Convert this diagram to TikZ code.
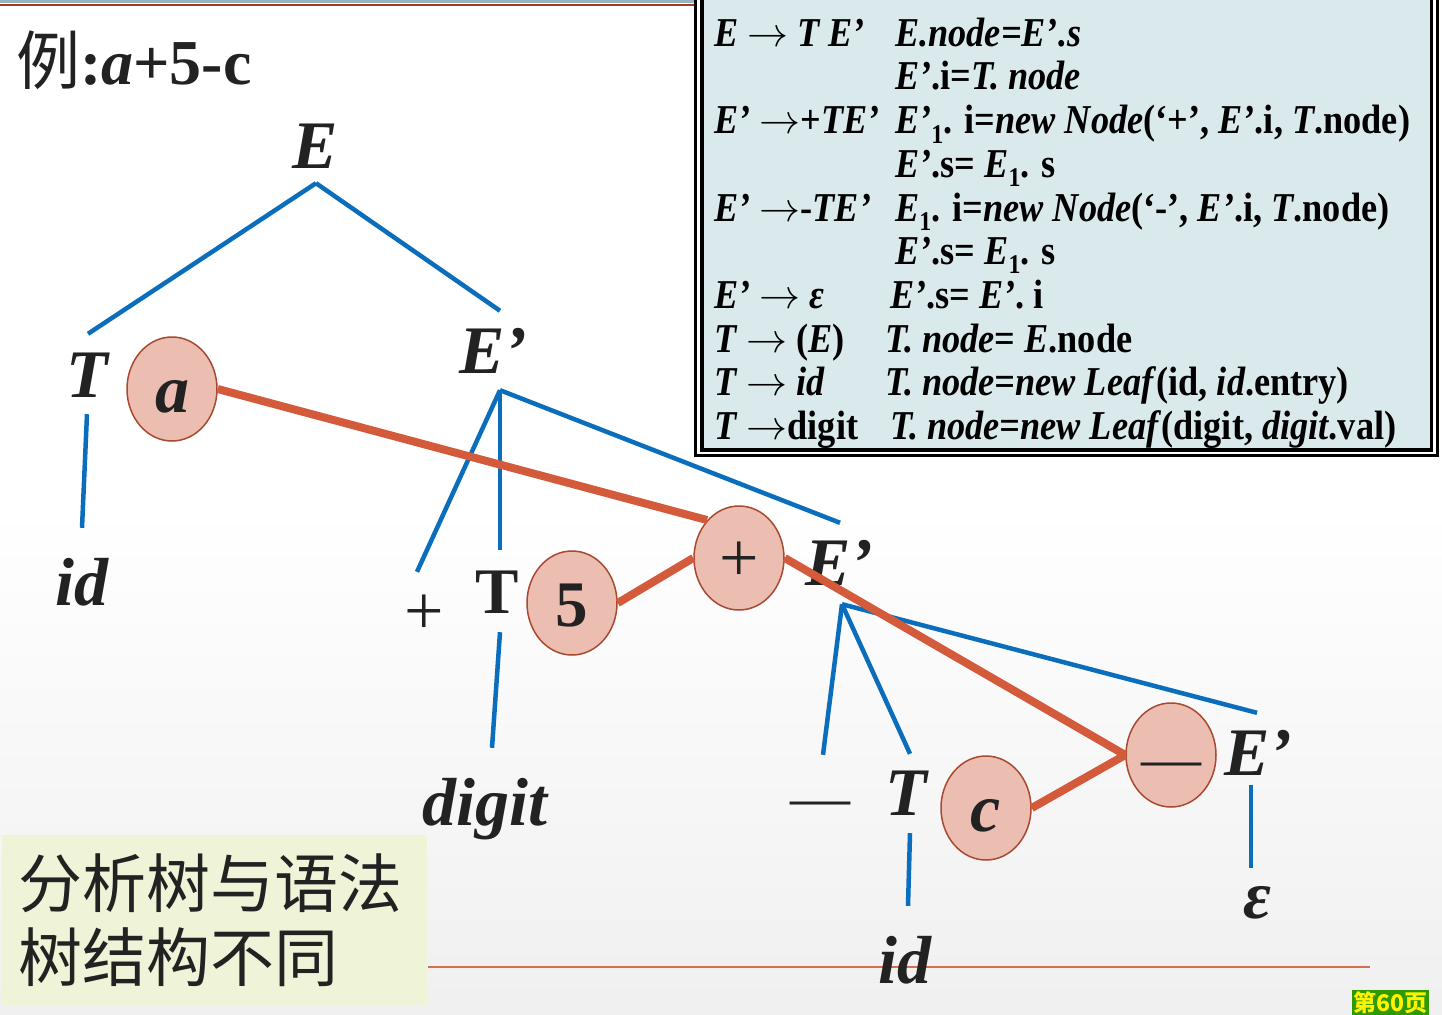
\RequirePackage{fix-cm}
\documentclass[tikz,border=0pt]{standalone}
\usepackage{fontspec}
\setmainfont{Liberation Serif}
\newfontfamily\cjk{Noto Sans CJK SC}
\newfontfamily\boxfont[FakeStretch=0.885]{Liberation Serif}
\usetikzlibrary{shapes.geometric,calc}
\definecolor{treeblue}{HTML}{0A6EBD}
\definecolor{treered}{HTML}{D35A3A}
\definecolor{circfill}{HTML}{ECBDB1}
\definecolor{circdraw}{HTML}{A84A32}
\definecolor{boxfill}{HTML}{DAE9EC}
\definecolor{notefill}{HTML}{EFF3D7}
\definecolor{ink}{HTML}{222222}
\definecolor{stripcol}{HTML}{96B4BC}
\definecolor{stripred}{HTML}{9E3A2A}
\definecolor{thinred}{HTML}{D0704E}
\definecolor{pagegreen}{HTML}{2E9A00}
\newcommand{\sbx}[1]{\raisebox{-0.24em}{\fontsize{27}{27}\selectfont #1}}
\newcommand{\arr}{\ensuremath{\rightarrow}}
\tikzset{
  lbl/.style={inner sep=0pt, text height=46pt, text depth=0pt, anchor=base,
    font=\fontsize{68}{70}\selectfont\bfseries\itshape, text=ink},
  lblup/.style={lbl, font=\fontsize{65}{70}\selectfont\bfseries},
  sym/.style={lbl, font=\fontsize{60}{64}\selectfont},
  plussym/.style={lbl, font=\fontsize{70}{72}\selectfont},
  val/.style={ellipse, draw=circdraw, line width=1.5pt, fill=circfill,
    minimum width=90pt, minimum height=104pt, inner sep=0pt,
    text height=46pt, text depth=0pt, text=ink},
  valit/.style={val, font=\fontsize{68}{70}\selectfont\bfseries\itshape},
  valup/.style={val, font=\fontsize{65}{70}\selectfont\bfseries},
  valsym/.style={val, font=\fontsize{60}{64}\selectfont},
  valplus/.style={val, font=\fontsize{70}{72}\selectfont},
  branch/.style={draw=treeblue, line width=4.5pt},
  link/.style={draw=treered, line width=8pt},
  row/.style={anchor=base west, inner sep=0pt,
    font=\boxfont\fontsize{41}{44}\selectfont\bfseries, text=black},
  note/.style={anchor=base west, inner sep=0pt,
    font=\cjk\fontsize{64}{66}\selectfont, text=ink}
}
\begin{document}
\begin{tikzpicture}[x=1pt,y=-1pt]
\path[use as bounding box, clip] (0,0) rectangle (1442,1014);
\shade[top color=white, bottom color=black!6, middle color=white] (0,0) rectangle (1442,1014);
% top strip
\fill[stripcol] (0,0) rectangle (695,3.5);
\draw[stripred, line width=2pt] (0,5) -- (695,5);
% rule box
\fill[white] (694,-5) rectangle (1440,457.5);
\draw[line width=3pt] (695.5,-5) rectangle (1437.5,455.5);
\filldraw[fill=boxfill, line width=3.5pt] (702,-5) rectangle (1431.5,450);

\node[row] (l1) at (714,47) {\textit{E} \arr{} \textit{T E’}};
\node[row] (r1) at (895,47) {\textit{E.node=E’.s}};
\node[row] (r2) at (895,90) {\textit{E’}.i=\textit{T. node}};
\node[row] (l3) at (714,134) {\textit{E’} \arr+\textit{TE’}};
\node[row] (r3) at (895,134) {\textit{E’}\sbx{1}. i=\textit{new Node}(‘+’, \textit{E’}.i, \textit{T}.node)};
\node[row] (r4) at (895,177) {\textit{E’}.s= \textit{E}\sbx{1}. s};
\node[row] (l5) at (714,221) {\textit{E’} \arr-\textit{TE’}};
\node[row] (r5) at (895,221) {\textit{E}\sbx{1}. i=\textit{new Node}(‘-’, \textit{E’}.i, \textit{T}.node)};
\node[row] (r6) at (895,264) {\textit{E’}.s= \textit{E}\sbx{1}. s};
\node[row] (l7) at (714,308) {\textit{E’} \arr{} \textit{ε}};
\node[row] (r7) at (890,308) {\textit{E’}.s= \textit{E’}. i};
\node[row] (l8) at (714,352) {\textit{T} \arr{} (\textit{E})};
\node[row] (r8) at (885,352) {\textit{T. node}= \textit{E}.node};
\node[row] (l9) at (714,395) {\textit{T} \arr{} \textit{id}};
\node[row] (r9) at (885,395) {\textit{T. node=new Leaf}(id, \textit{id}.entry)};
\node[row] (l10) at (714,439) {\textit{T} \arr digit};
\node[row] (r10) at (890,439) {\textit{T. node=new Leaf}(digit, \textit{digit}.val)};

% title
\node[anchor=base west, inner sep=0pt, text=ink, font=\fontsize{64}{66}\selectfont] (title) at (16,85)
  {{\cjk 例}\textbf{:\textit{a}+5-c}};

% note box
\draw[thinred, line width=2pt] (428,967) -- (1370,967);
\node[fill=notefill, inner sep=0pt, minimum width=425pt, minimum height=170pt, anchor=north west] (notebox) at (2,835) {};
\node[note] (n1) at (18,907) {分析树与语法};
\node[note] (n2) at (18,981) {树结构不同};

% page number
\node[fill=pagegreen, text=yellow, font=\cjk\bfseries\fontsize{23}{24}\selectfont, inner sep=1.5pt, anchor=north west] (pg) at (1352,990) {第60页};

% tree labels
\node[lbl] (E) at (315,168) {E};
\node[lbl] (T1) at (87,397) {T};
\node[lbl] (id1) at (82,605) {id};
\node[lbl] (Ep1) at (493,373) {E’};
\node[plussym] (plus1) at (424,634) {+};
\node[lblup] (T2) at (497,613) {T};
\node[lbl] (digit) at (485,825) {digit};
\node[lbl] (Ep2) at (839,585) {E’};
\node[sym] (dash1) at (820,817) {—};
\node[lbl] (T3) at (906,815) {T};
\node[lbl] (id3) at (905,983) {id};
\node[lbl] (Ep3) at (1258,775) {E’};
\node[lbl] (eps) at (1257,918) {ε};

% value nodes
\node[valit] (a) at (172,389) {a};
\node[valup] (five) at (572,603) {5};
\node[valplus] (plus) at (739,558) {+};
\node[valit] (c) at (986,808) {c};
\node[valsym] (minus) at (1171,755) {—};

% parse tree branches
\draw[branch] ($(E.south)+(1,15)$) -- ($(T1.north)+(1,-17)$);
\draw[branch] ($(E.south)+(1,15)$) -- ($(Ep1.north)+(7,-16)$);
\draw[branch] ($(T1.south)+(0,17)$) -- ($(id1.north)+(0,-31)$);
\draw[branch] ($(Ep1.south)+(7,17)$) -- ($(plus1.north)+(-7,-16)$);
\draw[branch] ($(Ep1.south)+(7,17)$) -- ($(T2.north)+(3,-17)$);
\draw[branch] ($(Ep1.south)+(7,17)$) -- ($(Ep2.north)+(1,-16)$);
\draw[branch] ($(T2.south)+(3,19)$) -- ($(digit.north)+(7,-31)$);
\draw[branch] ($(Ep2.south)+(3,19)$) -- ($(dash1.north)+(3,-16)$);
\draw[branch] ($(Ep2.south)+(3,19)$) -- ($(T3.north)+(4,-15)$);
\draw[branch] ($(Ep2.south)+(3,19)$) -- ($(Ep3.north)+(-1,-16)$);
\draw[branch] ($(T3.south)+(4,18)$) -- ($(id3.north)+(3,-31)$);
\draw[branch] ($(Ep3.south)+(-7,10)$) -- ($(eps.north)+(-6,-4)$);

% syntax tree links
\draw[link] (a.east) -- (plus.130);
\draw[link] (five.east) -- (plus.west);
\draw[link] (plus.east) -- (minus.west);
\draw[link] (c.east) -- (minus.west);
\end{tikzpicture}
\end{document}
